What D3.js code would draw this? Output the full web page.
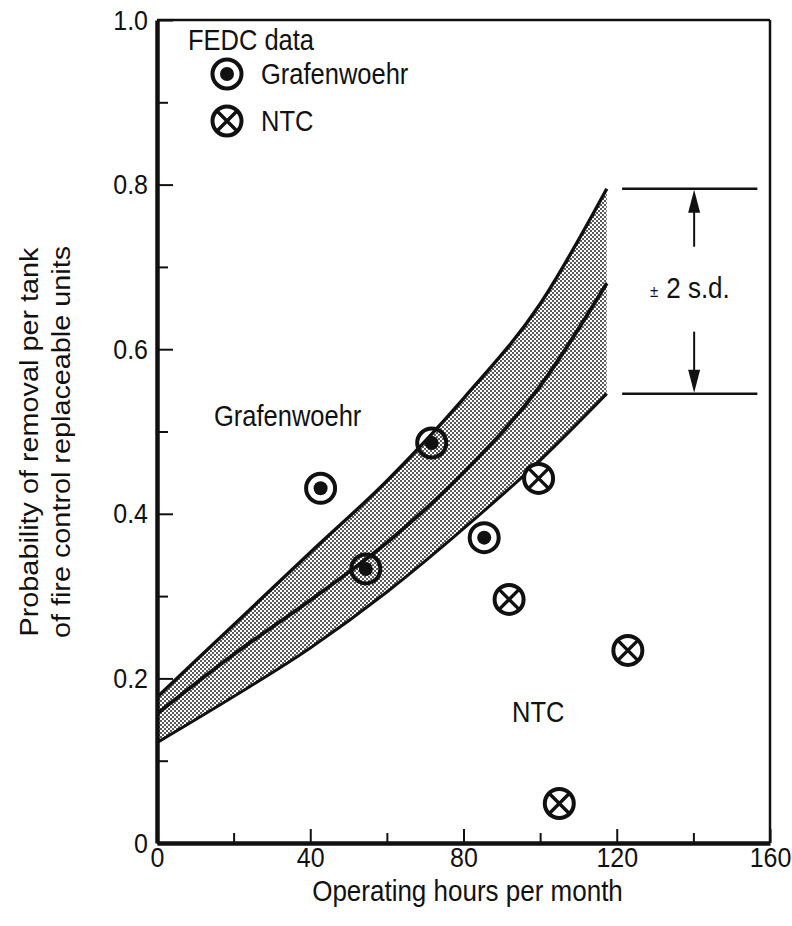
<!DOCTYPE html>
<html>
<head>
<meta charset="utf-8">
<script src="https://cdn.jsdelivr.net/npm/d3@7/dist/d3.min.js"></script>
<style>
  html, body { margin: 0; padding: 0; background: #fff; }
  svg { display: block; }
  text { font-family: "Liberation Sans", Arial, Helvetica, sans-serif; fill: #111; }
</style>
</head>
<body>
<svg id="chart" width="792" height="926"></svg>
<script>
// Observed removal probability per tank (FEDC data)
const grafHours = [42.7, 54.5, 71.7, 85.4];
const grafProb  = [0.431, 0.333, 0.486, 0.371];
const ntcHours  = [91.9, 99.6, 105.0, 122.9];
const ntcProb   = [0.296, 0.443, 0.048, 0.234];

// Fitted curve with its ±2 s.d. envelope
const curveHours = [0, 20, 40, 60, 80, 100, 117.4];
const upperBound = [0.177, 0.265, 0.353, 0.44, 0.54, 0.655, 0.795];
const meanFit    = [0.157, 0.229, 0.295, 0.365, 0.45, 0.555, 0.68];
const lowerBound = [0.122, 0.178, 0.237, 0.305, 0.382, 0.465, 0.546];

// Axis ticks
const xMajor = [0, 40, 80, 120, 160];
const xMinor = [20, 60, 100, 140];
const yMajor = [0, 0.2, 0.4, 0.6, 0.8, 1.0];
const yMinor = [0.1, 0.3, 0.5, 0.7, 0.9];

const svg = d3.select("#chart");
const L = 157, R = 770, T = 20, B = 843;
const x = d3.scaleLinear().domain([0, 160]).range([L, R]);
const y = d3.scaleLinear().domain([0, 1]).range([B, T]);

// lettering is tall and slightly condensed: stretch along the vertical
const S = 1.13;
function label(parent, px, py, str, fs, anchor = "start") {
  return parent.append("text")
    .attr("transform", `translate(${px},${py}) scale(1,${S})`)
    .attr("font-size", fs).attr("text-anchor", anchor).text(str);
}
function vlabel(parent, px, py, str, fs) {
  return parent.append("text")
    .attr("transform", `translate(${px},${py}) rotate(-90) scale(${S},1)`)
    .attr("font-size", fs).attr("text-anchor", "middle").text(str);
}

// stipple pattern for the envelope
const defs = svg.append("defs");
const pat = defs.append("pattern").attr("id", "stipple")
  .attr("patternUnits", "userSpaceOnUse").attr("width", 4).attr("height", 4);
pat.append("rect").attr("width", 4).attr("height", 4).attr("fill", "#fff");
pat.append("circle").attr("cx", 1).attr("cy", 1).attr("r", 1.0).attr("fill", "#222");
pat.append("circle").attr("cx", 3).attr("cy", 3).attr("r", 1.0).attr("fill", "#222");

const rows = curveHours.map((h, i) => ({ h, up: upperBound[i], mid: meanFit[i], lo: lowerBound[i] }));

svg.append("path").datum(rows)
  .attr("d", d3.area().x(d => x(d.h)).y0(d => y(d.lo)).y1(d => y(d.up)).curve(d3.curveMonotoneX))
  .attr("fill", "url(#stipple)");

const line = key => d3.line().x(d => x(d.h)).y(d => y(d[key])).curve(d3.curveMonotoneX);
[["up", 3.4], ["mid", 3.8], ["lo", 3.0]].forEach(([k, w]) => {
  svg.append("path").datum(rows).attr("d", line(k))
    .attr("fill", "none").attr("stroke", "#111").attr("stroke-width", w);
});

// frame: heavy left/bottom axes, lighter top/right
svg.append("line").attr("x1", L).attr("x2", R).attr("y1", T).attr("y2", T).attr("stroke", "#111").attr("stroke-width", 2.5);
svg.append("line").attr("x1", R).attr("x2", R).attr("y1", T).attr("y2", B).attr("stroke", "#111").attr("stroke-width", 2.5);

const fmtY = d => d === 0 ? "0" : d3.format(".1f")(d);

const gy = svg.append("g").attr("transform", `translate(${L},0)`);
gy.call(d3.axisLeft(y).tickValues(yMajor).tickSize(-16).tickSizeOuter(0).tickPadding(9).tickFormat(fmtY));
gy.append("g").call(d3.axisLeft(y).tickValues(yMinor).tickSize(-11).tickSizeOuter(0).tickFormat(""))
  .select(".domain").remove();
const gx = svg.append("g").attr("transform", `translate(0,${B})`);
gx.call(d3.axisBottom(x).tickValues(xMajor).tickSize(-14).tickSizeOuter(0).tickPadding(4).tickFormat(d3.format("d")));
gx.append("g").call(d3.axisBottom(x).tickValues(xMinor).tickSize(-10).tickSizeOuter(0).tickFormat(""))
  .select(".domain").remove();

svg.selectAll(".domain").attr("stroke", "#111").attr("stroke-width", 4.5);
svg.selectAll(".tick line").attr("stroke", "#111").attr("stroke-width", 2);
svg.selectAll(".tick text").attr("font-size", 25).attr("fill", "#111")
  .attr("font-family", "Liberation Sans, Arial, sans-serif");
// give the tick numbers the same vertical stretch as the rest of the lettering
gy.selectAll(".tick text").each(function () {
  const t = d3.select(this);
  t.attr("transform", `translate(${t.attr("x")},0) scale(1,${S})`).attr("x", 0);
});
gx.selectAll(".tick text").each(function () {
  const t = d3.select(this);
  t.attr("transform", `translate(0,${t.attr("y")}) scale(1,${S})`).attr("y", 0);
});

// axis titles
label(svg, (L + R) / 2 + 4, 901, "Operating hours per month", 26, "middle");
vlabel(svg, 38, 442, "Probability of removal per tank", 25.5);
vlabel(svg, 70, 442, "of fire control replaceable units", 25.5);

// ±2 s.d. bracket at the end of the envelope
const yTop = y(upperBound[upperBound.length - 1]);
const yBot = y(lowerBound[lowerBound.length - 1]);
const bx0 = x(121.4), bx1 = x(156.7), ax = x(140.2);
svg.append("line").attr("x1", bx0).attr("x2", bx1).attr("y1", yTop).attr("y2", yTop).attr("stroke", "#111").attr("stroke-width", 2.5);
svg.append("line").attr("x1", bx0).attr("x2", bx1).attr("y1", yBot).attr("y2", yBot).attr("stroke", "#111").attr("stroke-width", 2.5);
svg.append("line").attr("x1", ax).attr("x2", ax).attr("y1", yTop + 18).attr("y2", yTop + 58).attr("stroke", "#111").attr("stroke-width", 2);
svg.append("path").attr("d", `M${ax},${yTop + 1} l-6,23 l12,0 z`).attr("fill", "#111");
svg.append("line").attr("x1", ax).attr("x2", ax).attr("y1", yBot - 62).attr("y2", yBot - 18).attr("stroke", "#111").attr("stroke-width", 2);
svg.append("path").attr("d", `M${ax},${yBot - 1} l-6,-23 l12,0 z`).attr("fill", "#111");
const sd = label(svg, 650, 298, "", 26);
sd.append("tspan").attr("font-size", 15).attr("dy", -1).text("±");
sd.append("tspan").attr("dx", 8).attr("dy", 1).text("2 s.d.");

// in-plot group labels
label(svg, 214, 426, "Grafenwoehr", 25.5);
label(svg, 512, 722, "NTC", 25.5);

// marker symbols
function grafMark(g) {
  g.append("circle").attr("r", 14.5).attr("fill", "none").attr("stroke", "#111").attr("stroke-width", 4);
  g.append("circle").attr("r", 7).attr("fill", "#111");
}
function ntcMark(g) {
  const r = 14.5, d = r * Math.SQRT1_2;
  g.append("circle").attr("r", r).attr("fill", "#fff").attr("stroke", "#111").attr("stroke-width", 4);
  g.append("path").attr("d", `M${-d},${-d}L${d},${d}M${-d},${d}L${d},${-d}`)
    .attr("stroke", "#111").attr("stroke-width", 3.4);
}

const grafPts = grafHours.map((h, i) => ({ h, p: grafProb[i] }));
const ntcPts = ntcHours.map((h, i) => ({ h, p: ntcProb[i] }));

svg.append("g").selectAll("g").data(grafPts).join("g")
  .attr("transform", d => `translate(${x(d.h)},${y(d.p)})`).each(function () { grafMark(d3.select(this)); });
svg.append("g").selectAll("g").data(ntcPts).join("g")
  .attr("transform", d => `translate(${x(d.h)},${y(d.p)})`).each(function () { ntcMark(d3.select(this)); });

// legend
label(svg, 188, 50, "FEDC data", 25.5);
const lg1 = svg.append("g").attr("transform", "translate(227,74)"); grafMark(lg1);
label(svg, 261, 84, "Grafenwoehr", 25.5);
const lg2 = svg.append("g").attr("transform", "translate(227,121)"); ntcMark(lg2);
label(svg, 261, 131, "NTC", 25.5);
</script>
</body>
</html>
